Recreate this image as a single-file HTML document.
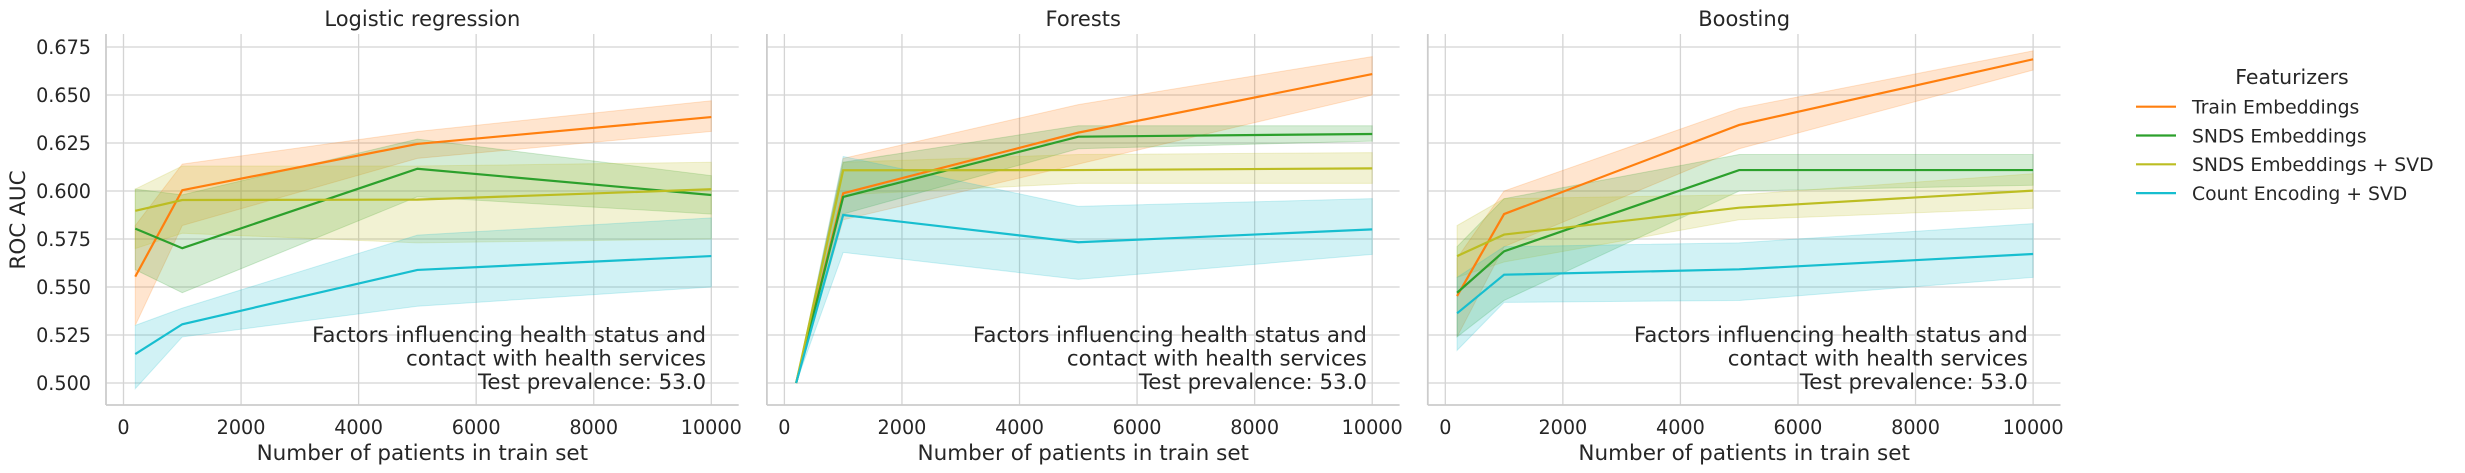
<!DOCTYPE html>
<html><head><meta charset="utf-8"><style>
html,body{margin:0;padding:0;background:#fff;}
svg{display:block;font-family:"DejaVu Sans","Liberation Sans",sans-serif;}
</style></head><body>
<svg id="chart" width="2465" height="473" viewBox="0 0 2465 473" xmlns="http://www.w3.org/2000/svg">
<g id="legend">
<text x="2292" y="84" text-anchor="middle" font-size="20.5" fill="#262626">Featurizers</text>
</g>
</svg>
<script>
const panelTitles = ["Logistic regression", "Forests", "Boosting"];
const seriesNames = ["Train Embeddings", "SNDS Embeddings", "SNDS Embeddings + SVD", "Count Encoding + SVD"];
const seriesColors = ["#ff7f0e", "#2ca02c", "#bcbd22", "#17becf"];
const xValues = [200, 1000, 5000, 10000];
const xTicks = [0, 2000, 4000, 6000, 8000, 10000];
const yTicks = [0.500, 0.525, 0.550, 0.575, 0.600, 0.625, 0.650, 0.675];
// [panel][series][point]
const meanValues = [
  [[0.5554,0.6004,0.6245,0.6385],[0.5804,0.5702,0.6116,0.5979],[0.5897,0.5953,0.5955,0.6009],[0.5151,0.5306,0.5589,0.5661]],
  [[0.500,0.5988,0.6304,0.6609],[0.500,0.5969,0.6283,0.6297],[0.500,0.6108,0.6109,0.6118],[0.500,0.5875,0.5733,0.5800]],
  [[0.5453,0.5880,0.6344,0.6686],[0.5470,0.5686,0.6109,0.6109],[0.5661,0.5773,0.5913,0.6002],[0.5363,0.5564,0.5592,0.5672]]
];
const lowerValues = [
  [[0.530,0.582,0.617,0.631],[0.559,0.547,0.597,0.588],[0.570,0.578,0.573,0.575],[0.497,0.524,0.540,0.550]],
  [[0.500,0.585,0.614,0.650],[0.500,0.588,0.622,0.626],[0.500,0.598,0.604,0.604],[0.500,0.568,0.554,0.567]],
  [[0.524,0.571,0.622,0.663],[0.524,0.543,0.600,0.603],[0.555,0.563,0.585,0.591],[0.517,0.542,0.543,0.555]]
];
const upperValues = [
  [[0.582,0.614,0.631,0.647],[0.601,0.598,0.627,0.608],[0.601,0.613,0.613,0.615],[0.530,0.539,0.577,0.586]],
  [[0.500,0.617,0.645,0.670],[0.500,0.615,0.634,0.634],[0.500,0.615,0.619,0.620],[0.500,0.618,0.592,0.596]],
  [[0.565,0.600,0.643,0.673],[0.571,0.596,0.619,0.619],[0.582,0.596,0.598,0.609],[0.555,0.571,0.573,0.583]]
];
const annotationLines = ["Factors influencing health status and", "contact with health services", "Test prevalence: 53.0"];

const NS = "http://www.w3.org/2000/svg";
const svg = document.getElementById("chart");
function mk(tag, attrs, parent) {
  const e = document.createElementNS(NS, tag);
  for (const k in attrs) e.setAttribute(k, attrs[k]);
  parent.appendChild(e);
  return e;
}
const panelOffset = 660.9;
const axLeft0 = 106, axWidth = 632.7, axTop = 34, axBottom = 405;
const x0px = 123.5, xPer = (711.3 - 123.5) / 10000;
function yScale(v) { return 383 - (v - 0.5) * 1920; }

for (let p = 0; p < 3; p++) {
  const off = p * panelOffset;
  const xScale = v => off + x0px + v * xPer;
  const g = mk("g", {}, svg);
  
  
  const L = axLeft0 + off, R = L + axWidth;
  yTicks.forEach(t => {
    const ln = mk("line", {x1: L, x2: R, y1: yScale(t), y2: yScale(t), stroke: "#d4d4d4", "stroke-width": 1.3}, g);
    
    
  });
  xTicks.forEach(t => {
    const ln = mk("line", {x1: xScale(t), x2: xScale(t), y1: axTop, y2: axBottom, stroke: "#d4d4d4", "stroke-width": 1.3}, g);
    
    
    const tx = mk("text", {x: xScale(t), y: 434, "text-anchor": "middle", "font-size": 19.2, fill: "#262626"}, g);
    tx.textContent = t;
    
    
  });
  if (p === 0) {
    yTicks.forEach(t => {
      const tx = mk("text", {x: 91, y: yScale(t) + 6.8, "text-anchor": "end", "font-size": 19.2, fill: "#262626"}, g);
      tx.textContent = t.toFixed(3);
      
      
    });
    const yl = mk("text", {x: 0, y: 0, transform: "translate(25,220) rotate(-90)", "text-anchor": "middle", "font-size": 21.5, fill: "#262626"}, g);
    yl.textContent = "ROC AUC";
    
    
  }
  for (let s = 0; s < 4; s++) {
    let d = "";
    xValues.forEach((xv, i) => { d += (i ? "L" : "M") + xScale(xv) + "," + yScale(upperValues[p][s][i]); });
    for (let i = xValues.length - 1; i >= 0; i--) d += "L" + xScale(xValues[i]) + "," + yScale(lowerValues[p][s][i]);
    d += "Z";
    const band = mk("path", {d: d, fill: seriesColors[s], "fill-opacity": 0.2, stroke: seriesColors[s], "stroke-opacity": 0.2, "stroke-width": 1}, g);
    
    
  }
  for (let s = 0; s < 4; s++) {
    const pts = xValues.map((xv, i) => xScale(xv) + "," + yScale(meanValues[p][s][i])).join(" ");
    const pl = mk("polyline", {points: pts, fill: "none", stroke: seriesColors[s], "stroke-width": 2.2}, g);
    
    
  }
  const sp1 = mk("line", {x1: L, x2: L, y1: axTop, y2: axBottom, stroke: "#cccccc", "stroke-width": 1.8}, g);
  
  
  const sp2 = mk("line", {x1: L, x2: R, y1: axBottom, y2: axBottom, stroke: "#cccccc", "stroke-width": 1.8}, g);
  
  
  annotationLines.forEach((t, i) => {
    const tx = mk("text", {x: 706 + off, y: 342 + i * 23.5, "text-anchor": "end", "font-size": 21.3, fill: "#262626"}, g);
    tx.textContent = t;
    
    
  });
  const title = mk("text", {x: L + axWidth / 2, y: 26, "text-anchor": "middle", "font-size": 21, fill: "#262626"}, g);
  title.textContent = panelTitles[p];
  
  
  const xl = mk("text", {x: L + axWidth / 2, y: 460, "text-anchor": "middle", "font-size": 21.5, fill: "#262626"}, g);
  xl.textContent = "Number of patients in train set";
  
  
}
const lg = document.getElementById("legend");
seriesNames.forEach((n, i) => {
  const y = 106.7 + i * 28.8;
  const ln = mk("line", {x1: 2136, x2: 2176, y1: y, y2: y, stroke: seriesColors[i], "stroke-width": 2.2}, lg);
  
  
  const tx = mk("text", {x: 2192, y: y + 6.8, "font-size": 18.8, fill: "#262626"}, lg);
  tx.textContent = n;
  
  
});
</script>
</body></html>
